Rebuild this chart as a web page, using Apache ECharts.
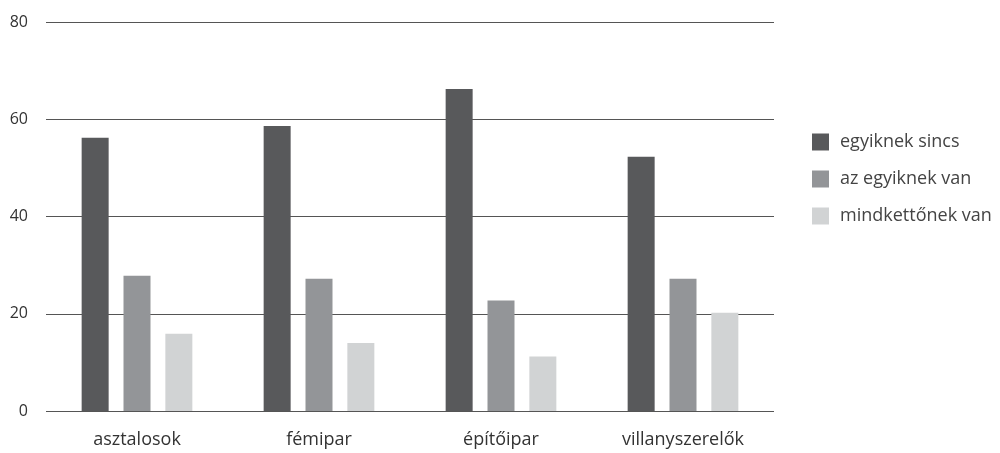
<!DOCTYPE html>
<html><head><meta charset="utf-8">
<script src="https://cdn.jsdelivr.net/npm/echarts@6/dist/echarts.min.js"></script>
<style>html,body{margin:0;padding:0;background:#fff}#c{width:1000px;height:453px}</style>
</head><body><div id="c"></div>
<script>
const categories = ['asztalosok', 'fémipar', 'építőipar', 'villanyszerelők'];
const seriesNames = ['egyiknek sincs', 'az egyiknek van', 'mindkettőnek van'];
const egyiknekSincs = [56.2, 58.6, 66.2, 52.3];
const azEgyiknekVan = [27.8, 27.2, 22.7, 27.2];
const mindkettonekVan = [15.9, 14.0, 11.2, 20.2];
const yTicks = [0, 20, 40, 60, 80];

const colors = ['#58595b', '#939598', '#d1d3d4'];
const values = [egyiknekSincs, azEgyiknekVan, mindkettonekVan];
const chart = echarts.init(document.getElementById('c'));
chart.setOption({
  animation: false,
  color: colors,
  textStyle: { fontFamily: 'Open Sans' },
  grid: { left: 46, right: 226, top: 22, bottom: 42 },
  legend: {
    orient: 'vertical', left: 807, top: 128,
    itemWidth: 17, itemHeight: 17, itemGap: 19,
    icon: 'rect',
    textStyle: { fontSize: 18, color: '#444', fontFamily: 'Open Sans', padding: [0, 0, 0, 6] },
    data: seriesNames
  },
  xAxis: {
    type: 'category', data: categories,
    axisLine: { show: false }, axisTick: { show: false },
    axisLabel: { fontSize: 18, color: '#333', margin: 20 }
  },
  yAxis: {
    type: 'value', min: yTicks[0], max: yTicks[yTicks.length - 1], interval: 20,
    axisLine: { show: false }, axisTick: { show: false },
    axisLabel: { fontSize: 16, color: '#333', margin: 18 },
    splitLine: { lineStyle: { color: '#555', width: 1 } }
  },
  series: seriesNames.map((n, i) => ({
    name: n, type: 'bar', data: values[i],
    barWidth: 27, barGap: '55%'
  }))
});
</script></body></html>
